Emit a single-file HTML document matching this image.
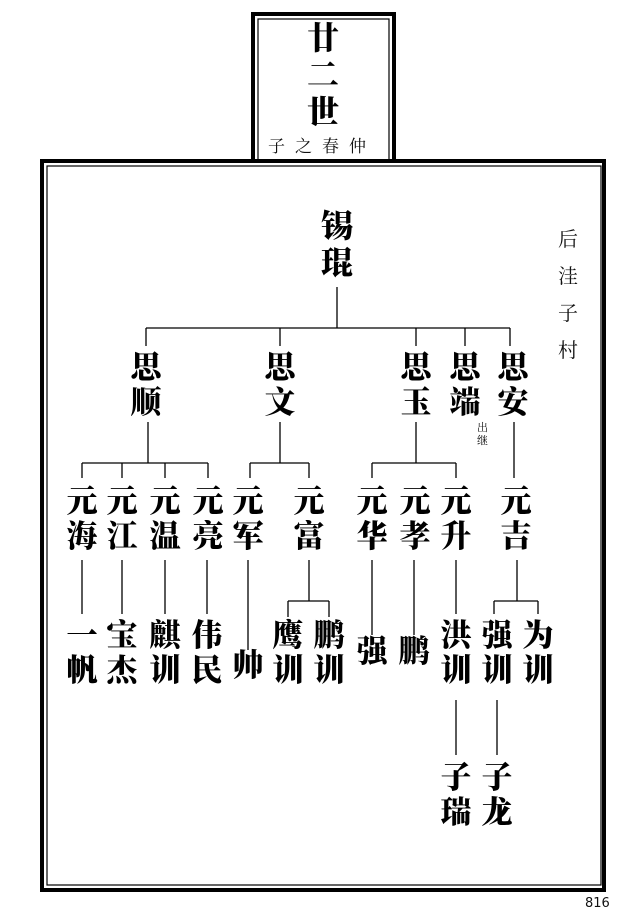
<!DOCTYPE html>
<html><head><meta charset="utf-8"><style>
body{margin:0;width:644px;height:918px;background:#fff;position:relative;overflow:hidden;font-family:"Liberation Serif","Noto Serif CJK SC",serif}
.n{position:absolute;width:50px;text-align:center;font-weight:900;font-size:31px;line-height:35px;color:#000}
.s{position:absolute;font-family:"Liberation Serif","Noto Serif CJK SC",serif;color:#111}
</style></head><body>
<svg width="644" height="918" style="position:absolute;left:0;top:0" stroke="#000" fill="none">
<rect x="253" y="14" width="141" height="147" stroke-width="4"/>
<rect x="258" y="19" width="131" height="142" stroke-width="1.2"/>
<rect x="42" y="161" width="562" height="729" stroke-width="4" fill="#fff"/>
<rect x="47" y="166" width="554" height="719" stroke-width="1.2"/>
<g stroke-width="1.3">
<line x1="337" y1="287" x2="337" y2="328"/>
<line x1="146" y1="328" x2="510" y2="328"/>
<line x1="146" y1="328" x2="146" y2="346"/><line x1="280" y1="328" x2="280" y2="346"/>
<line x1="416" y1="328" x2="416" y2="346"/><line x1="465" y1="328" x2="465" y2="346"/><line x1="510" y1="328" x2="510" y2="346"/>
<line x1="148" y1="422" x2="148" y2="463"/><line x1="82" y1="463" x2="208" y2="463"/>
<line x1="82" y1="463" x2="82" y2="478"/><line x1="122" y1="463" x2="122" y2="478"/><line x1="165" y1="463" x2="165" y2="478"/><line x1="208" y1="463" x2="208" y2="478"/>
<line x1="280" y1="422" x2="280" y2="463"/><line x1="250" y1="463" x2="309" y2="463"/>
<line x1="250" y1="463" x2="250" y2="478"/><line x1="309" y1="463" x2="309" y2="478"/>
<line x1="416" y1="422" x2="416" y2="463"/><line x1="372" y1="463" x2="456" y2="463"/>
<line x1="372" y1="463" x2="372" y2="478"/><line x1="456" y1="463" x2="456" y2="478"/>
<line x1="514" y1="422" x2="514" y2="478"/>
<line x1="82" y1="560" x2="82" y2="614"/><line x1="122" y1="560" x2="122" y2="614"/><line x1="165" y1="560" x2="165" y2="614"/><line x1="207" y1="560" x2="207" y2="614"/>
<line x1="248" y1="560" x2="248" y2="650"/>
<line x1="309" y1="560" x2="309" y2="601"/><line x1="288" y1="601" x2="329" y2="601"/>
<line x1="288" y1="601" x2="288" y2="617"/><line x1="329" y1="601" x2="329" y2="617"/>
<line x1="372" y1="560" x2="372" y2="635"/><line x1="414" y1="560" x2="414" y2="635"/>
<line x1="456" y1="560" x2="456" y2="614"/>
<line x1="517" y1="560" x2="517" y2="601"/><line x1="494" y1="601" x2="538" y2="601"/>
<line x1="494" y1="601" x2="494" y2="614"/><line x1="538" y1="601" x2="538" y2="614"/>
<line x1="456" y1="700" x2="456" y2="755"/><line x1="497" y1="700" x2="497" y2="755"/>
</g></svg>
<div class="n" style="left:298px;top:20px;font-size:32px;line-height:37px">廿<br>二<br>世</div>
<div class="s" style="left:268px;top:132px;font-size:17px;letter-spacing:10px">子之春仲</div>
<div class="n" style="left:312px;top:208px;font-size:32px;line-height:37px">锡<br>琨</div>
<div class="s" style="left:558px;top:222px;font-size:20px;line-height:37px;width:20px">后<br>洼<br>子<br>村</div>
<div class="n" style="left:121px;top:350px">思<br>顺</div>
<div class="n" style="left:255px;top:350px">思<br>文</div>
<div class="n" style="left:391px;top:350px">思<br>玉</div>
<div class="n" style="left:440px;top:350px">思<br>端</div>
<div class="n" style="left:488px;top:350px">思<br>安</div>
<div class="s" style="left:477px;top:422px;font-size:11px;line-height:13px">出<br>继</div>
<div class="n" style="left:57px;top:484px">元<br>海</div>
<div class="n" style="left:97px;top:484px">元<br>江</div>
<div class="n" style="left:140px;top:484px">元<br>温</div>
<div class="n" style="left:183px;top:484px">元<br>亮</div>
<div class="n" style="left:223px;top:484px">元<br>军</div>
<div class="n" style="left:284px;top:484px">元<br>富</div>
<div class="n" style="left:347px;top:484px">元<br>华</div>
<div class="n" style="left:390px;top:484px">元<br>孝</div>
<div class="n" style="left:431px;top:484px">元<br>升</div>
<div class="n" style="left:491px;top:484px">元<br>吉</div>
<div class="n" style="left:57px;top:618px">一<br>帆</div>
<div class="n" style="left:97px;top:618px">宝<br>杰</div>
<div class="n" style="left:140px;top:618px">麒<br>训</div>
<div class="n" style="left:182px;top:618px">伟<br>民</div>
<div class="n" style="left:223px;top:648px">帅</div>
<div class="n" style="left:263px;top:618px">鹰<br>训</div>
<div class="n" style="left:304px;top:618px">鹏<br>训</div>
<div class="n" style="left:347px;top:634px">强</div>
<div class="n" style="left:389px;top:634px">鹏</div>
<div class="n" style="left:431px;top:618px">洪<br>训</div>
<div class="n" style="left:472px;top:618px">强<br>训</div>
<div class="n" style="left:513px;top:618px">为<br>训</div>
<div class="n" style="left:431px;top:760px">子<br>瑞</div>
<div class="n" style="left:472px;top:760px">子<br>龙</div>
<div class="s" style="left:585px;top:896px;font-size:13px;font-family:'DejaVu Sans',sans-serif">816</div>
</body></html>
